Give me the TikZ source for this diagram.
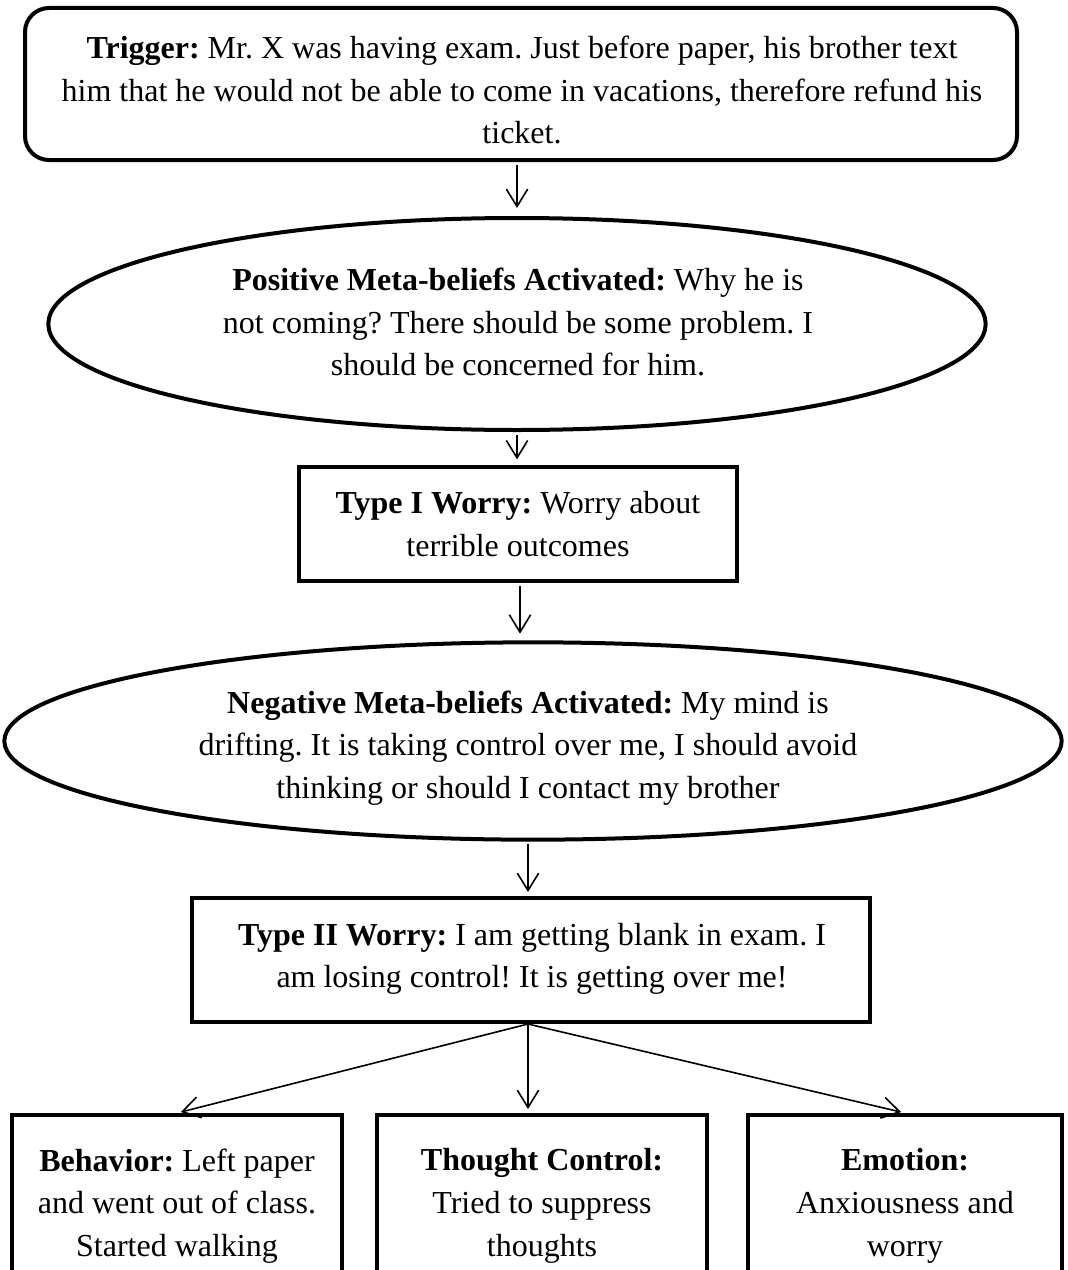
\documentclass[tikz,border=0pt]{standalone}
\usepackage{fontspec}
\setmainfont{Liberation Serif}
\usetikzlibrary{arrows.meta,shapes.geometric}
\begin{document}
\frenchspacing
\begin{tikzpicture}[x=0.75pt,y=-0.75pt,
  shp/.style={draw,line width=3pt,inner sep=0pt},
  txt/.style={font=\fontsize{24}{32}\selectfont,align=center,inner sep=0pt},
  arr/.style={line width=1.2pt,-{Straight Barb[length=13pt,width=16pt,line width=1.2pt]}}]
\clip (0,0) rectangle (1067,1270);
\fill[white] (0,0) rectangle (1067,1270);
% shapes
\node[shp,rounded corners=18pt,minimum width=744pt,minimum height=114pt] (trig) at (521,84) {};
\node[shp,ellipse,minimum width=703pt,minimum height=159pt] (ell1) at (517,324) {};
\node[shp,minimum width=328pt,minimum height=86pt] (t1) at (518,524) {};
\node[shp,ellipse,minimum width=793pt,minimum height=148pt] (ell2) at (533,741) {};
\node[shp,minimum width=508pt,minimum height=93pt] (t2) at (531,960) {};
\node[shp,minimum width=248pt,minimum height=150pt,anchor=north] (beh) at (177,1113) {};
\node[shp,minimum width=247pt,minimum height=150pt,anchor=north] (tc) at (542,1113) {};
\node[shp,minimum width=236pt,minimum height=150pt,anchor=north] (emo) at (905,1113) {};
% texts
\node[txt] (trigtxt) at (522,90) {\textbf{Trigger:} Mr. X was having exam. Just before paper, his brother text\\
him that he would not be able to come in vacations, therefore refund his\\ ticket.};
\node[txt] (ell1txt) at (518,322) {\textbf{Positive Meta-beliefs Activated:} Why he is\\
not coming? There should be some problem. I\\ should be concerned for him.};
\node[txt] (t1txt) at (518,524) {\textbf{Type I Worry:} Worry about\\ terrible outcomes};
\node[txt] (ell2txt) at (528,748) {\textbf{Negative Meta-beliefs Activated:} My mind is\\
drifting. It is taking control over me, I should avoid\\ thinking or should I contact my brother};
\node[txt] (t2txt) at (532,959) {\textbf{Type II Worry:} I am getting blank in exam. I\\ am losing control! It is getting over me!};
\node[txt] (behtxt) at (177,1206) {\textbf{Behavior:} Left paper\\ and went out of class.\\ Started walking};
\node[txt] (tctxt) at (542,1206) {\textbf{Thought Control:}\\ Tried to suppress\\ thoughts};
\node[txt] (emotxt) at (905,1206) {\textbf{Emotion:}\\ Anxiousness and\\ worry};
% connectors
\draw[arr,shorten <=2pt,shorten >=6pt] (trig.south -| ell1.north) -- (ell1.north);
\draw[arr,shorten <=2pt,shorten >=4pt] (ell1.south) -- (t1.north -| ell1.south);
\draw[arr,shorten <=2pt,shorten >=5pt] (t1.south -| 520,0) -- (ell2.north -| 520,0);
\draw[arr,shorten <=2pt,shorten >=3pt] (ell2.south -| 528,0) -- (t2.north -| 528,0);
\draw[arr,shorten >=3pt] (t2.south -| 528,0) -- (beh.north);
\draw[arr,shorten >=3pt] (t2.south -| 528,0) -- (tc.north -| 528,0);
\draw[arr,shorten >=3pt] (t2.south -| 528,0) -- (emo.north);
\end{tikzpicture}
\end{document}
